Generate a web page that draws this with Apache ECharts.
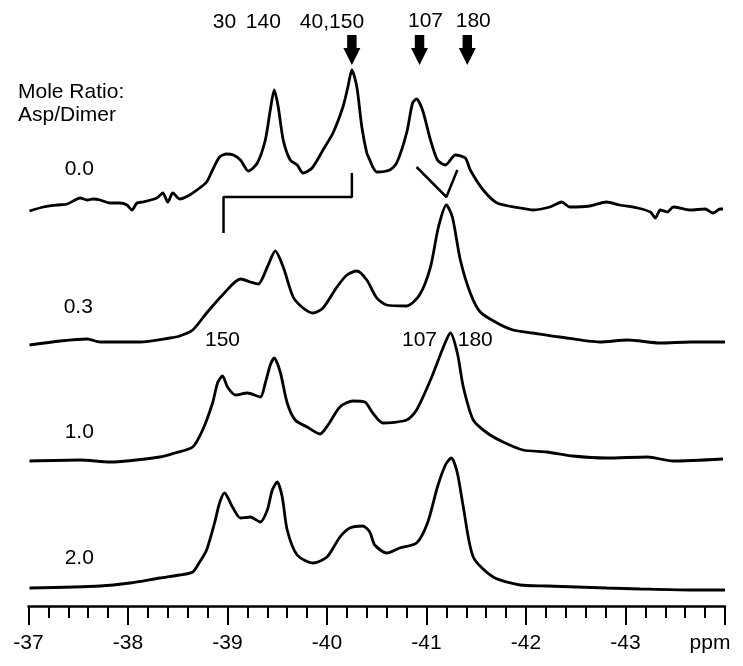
<!DOCTYPE html>
<html>
<head>
<meta charset="utf-8">
<script src="https://cdn.jsdelivr.net/npm/echarts@6/dist/echarts.min.js"></script>
<style>
html,body{margin:0;padding:0;background:#fff;}
#chart{width:743px;height:666px;}
</style>
</head>
<body>
<div id="chart"></div>
<script>
// ---- Data (chemical shift in ppm, intensity relative to each trace's baseline) ----
const ratioLabels = ['0.0', '0.3', '1.0', '2.0'];
const traceOffsets = [396, 264, 146, 18];

const ppm00 = [-37.01,-37.15,-37.29,-37.39,-37.52,-37.59,-37.65,-37.72,-37.82,-37.92,-37.99,-38.04,-38.09,-38.15,-38.29,-38.35,-38.40,-38.45,-38.52,-38.62,-38.72,-38.79,-38.85,-38.92,-38.99,-39.06,-39.13,-39.21,-39.30,-39.38,-39.43,-39.47,-39.51,-39.56,-39.63,-39.70,-39.76,-39.85,-39.96,-40.06,-40.16,-40.21,-40.25,-40.30,-40.35,-40.40,-40.43,-40.46,-40.50,-40.63,-40.70,-40.80,-40.86,-40.90,-40.96,-41.04,-41.11,-41.19,-41.29,-41.39,-41.44,-41.57,-41.71,-41.94,-42.07,-42.24,-42.36,-42.44,-42.64,-42.81,-42.94,-43.12,-43.25,-43.30,-43.35,-43.42,-43.48,-43.65,-43.80,-43.88,-43.95,-43.98];
const int00 = [-1,3,5,6,12,10,11,10,7,7,5,0,7,8,12,17,8,17,11,15,22,28,40,53,56,55,50,39,47,70,100,120,103,70,50,45,37,42,60,77,103,123,140,123,83,57,50,43,38,40,47,77,107,111,100,70,50,45,55,52,40,20,7,2,0,3,8,3,4,8,5,2,-2,-8,0,-2,3,0,1,-3,1,1];

const ppm03 = [-37.01,-37.32,-37.59,-37.72,-38.12,-38.42,-38.52,-38.65,-38.79,-38.95,-39.13,-39.23,-39.31,-39.40,-39.48,-39.56,-39.66,-39.76,-39.86,-39.96,-40.10,-40.20,-40.30,-40.40,-40.50,-40.60,-40.80,-40.93,-41.04,-41.12,-41.20,-41.26,-41.34,-41.44,-41.54,-41.71,-41.87,-42.07,-42.34,-42.74,-43.02,-43.35,-43.65,-44.00];
const int03 = [-3,1,3,0,0,4,6,12,29,47,63,60,58,75,91,75,45,34,29,34,55,67,71,62,44,37,36,47,75,115,137,125,82,49,30,19,12,9,5,0,2,-1,0,0];

const ppm10 = [-37.01,-37.52,-37.82,-38.32,-38.47,-38.65,-38.75,-38.85,-38.90,-38.95,-39.00,-39.08,-39.20,-39.33,-39.38,-39.43,-39.47,-39.53,-39.60,-39.68,-39.80,-39.93,-40.01,-40.13,-40.26,-40.38,-40.46,-40.56,-40.80,-40.90,-41.04,-41.17,-41.24,-41.31,-41.37,-41.47,-41.61,-41.77,-41.97,-42.21,-42.47,-42.81,-43.22,-43.48,-43.98];
const int10 = [-1,0,-2,3,7,13,30,57,77,84,73,65,67,63,77,95,102,88,57,40,33,26,35,53,59,58,47,37,40,50,80,113,127,107,73,40,27,18,10,8,4,2,3,-1,1];

const ppm20 = [-37.01,-37.72,-38.02,-38.32,-38.52,-38.65,-38.72,-38.79,-38.87,-38.92,-38.97,-39.05,-39.13,-39.23,-39.33,-39.40,-39.45,-39.50,-39.55,-39.60,-39.70,-39.86,-40.00,-40.13,-40.23,-40.36,-40.43,-40.48,-40.60,-40.73,-40.90,-41.01,-41.11,-41.19,-41.25,-41.31,-41.37,-41.47,-41.67,-41.94,-42.21,-42.51,-42.81,-43.15,-43.65,-44.00];
const int20 = [0,2,5,10,13,16,26,38,65,85,95,81,70,71,66,78,98,106,91,58,33,25,31,51,60,62,56,43,35,40,45,65,101,123,130,115,81,31,11,3,2,1,0,-1,-2,-2];

// Annotation marks (in ppm / plot units)
const arrowPpm = [-40.25, -40.93, -41.41];
const arrowLevel = 556;
const bracketPpm = [-38.96, -38.96, -40.25, -40.25];
const bracketLevel = [373, 409, 409, 433];
const vPpm = [-40.90, -41.20, -41.31];
const vLevel = [439, 409, 436];
const peakLabels = ['30', '140', '40,150', '107', '180', '150', '107', '180'];
const peakLabelPpm = [-38.97, -39.36, -40.05, -40.99, -41.47, -38.95, -40.93, -41.49];
const peakLabelLevel = [584, 584, 584, 585, 585, 266, 266, 266];
const ratioLabelPpm = [-37.51, -37.50, -37.51, -37.51];
const ratioLabelLevel = [437, 299, 174, 48];

const xTickMin = -44, xTickMax = -37;

const FONT = '"Liberation Sans", Arial, Helvetica, sans-serif';
const traces = [[ppm00, int00], [ppm03, int03], [ppm10, int10], [ppm20, int20]];

const series = traces.map(([p, v], k) => ({
  type: 'line',
  name: ratioLabels[k],
  data: p.map((x, i) => [x, traceOffsets[k] + v[i]]),
  showSymbol: false,
  smooth: 0.25,
  lineStyle: { color: '#000', width: 2.8 },
  silent: true,
  z: 3
}));

series.push({
  type: 'line',
  data: bracketPpm.map((x, i) => [x, bracketLevel[i]]),
  showSymbol: false,
  lineStyle: { color: '#000', width: 2.5 },
  silent: true
});
series.push({
  type: 'line',
  data: vPpm.map((x, i) => [x, vLevel[i]]),
  showSymbol: false,
  lineStyle: { color: '#000', width: 2.5 },
  silent: true
});
series.push({
  type: 'scatter',
  data: arrowPpm.map(x => [x, arrowLevel]),
  symbol: 'path://M4,0 L14,0 L14,13 L18,13 L9,30 L0,13 L4,13 Z',
  symbolSize: [17, 30],
  symbolKeepAspect: false,
  itemStyle: { color: '#000', opacity: 1 },
  silent: true
});
const textPoints = peakLabels.map((t, i) => [peakLabelPpm[i], peakLabelLevel[i], t])
  .concat(ratioLabels.map((t, i) => [ratioLabelPpm[i], ratioLabelLevel[i], t]));
series.push({
  type: 'scatter',
  data: textPoints,
  symbolSize: 1,
  itemStyle: { color: '#fff', opacity: 1 },
  label: {
    show: true,
    position: 'inside',
    formatter: p => p.data[2],
    fontFamily: FONT,
    fontSize: 21,
    color: '#000',
    opacity: 1
  },
  silent: true,
  z: 5
});

const chart = echarts.init(document.getElementById('chart'), null, { renderer: 'canvas' });
chart.setOption({
  animation: false,
  backgroundColor: '#fff',
  grid: { left: 28.5, right: 18, top: 0, bottom: 60 },
  xAxis: {
    type: 'value',
    min: xTickMin,
    max: xTickMax,
    interval: 1,
    inverse: true,
    axisLine: { show: true, onZero: false, lineStyle: { color: '#000', width: 2.6 } },
    axisTick: { show: true, length: 19, lineStyle: { color: '#000', width: 2 } },
    minorTick: { show: true, splitNumber: 5, length: 12, lineStyle: { color: '#000', width: 2 } },
    splitLine: { show: false },
    axisLabel: {
      margin: 27,
      fontFamily: FONT,
      fontSize: 21,
      color: '#000',
      formatter: v => (v === xTickMin ? '{p|ppm}' : String(v)),
      rich: { p: { fontFamily: FONT, fontSize: 21, color: '#000', padding: [0, 30, 0, 0] } }
    }
  },
  yAxis: { type: 'value', min: 0, max: 606, show: false },
  graphic: [
    { type: 'text', left: 18, top: 82, style: { text: 'Mole Ratio:', font: '21px ' + FONT, fill: '#000' } },
    { type: 'text', left: 18, top: 105, style: { text: 'Asp/Dimer', font: '21px ' + FONT, fill: '#000' } }
  ],
  series: series
});
</script>
</body>
</html>
